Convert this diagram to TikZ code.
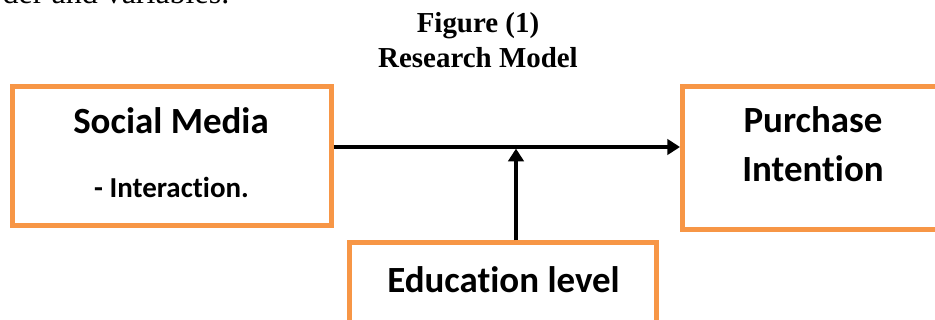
\documentclass[tikz,border=0pt]{standalone}
\usepackage{fontspec}
\setmainfont{Liberation Serif}
\newfontfamily\calfont[Ligatures=NoCommon]{Carlito}
\usetikzlibrary{arrows.meta}
\definecolor{boxorange}{HTML}{F79646}

\begin{document}
\begin{tikzpicture}[x=0.75pt, y=-0.75pt,
	box/.style={draw=boxorange, line width=3.75pt, rectangle},
	head/.style={font=\calfont\bfseries\fontsize{27.7pt}{33pt}\selectfont},
	sub/.style={font=\calfont\bfseries\fontsize{21.7pt}{26pt}\selectfont},
	title/.style={font=\bfseries\fontsize{21.7pt}{26pt}\selectfont},
	link/.style={-{Triangle[length=9.5pt,width=11.5pt]}, line width=2.4pt}]
	\useasboundingbox (0,0) rectangle (935,320);
	\path[clip] (0,0) rectangle (935,320);

	% end of the line above the figure
	\node[anchor=base west, font=\fontsize{24pt}{28pt}\selectfont] (prev) at (-2,4) {der and variables.};

	% caption
	\node[title, anchor=base] (fig) at (478,33) {Figure (1)};
	\node[title, anchor=base] (model) at (478,68) {Research Model};

	% boxes
	\node[box, minimum width=238.9pt, minimum height=103.9pt] (media) at (171.75,155.75) {};
	\node[box, minimum width=196.1pt, minimum height=107.6pt] (intent) at (813.25,158.25) {};
	\node[box, minimum width=230.6pt, minimum height=72.75pt] (edu) at (503.25,291.5) {};

	\node[head, anchor=base] (mediaT) at (171,134) {Social Media};
	\node[sub, anchor=base] (mediaI) at (171.5,198) {- Interaction.};
	\node[head, anchor=base] (intentA) at (813,133) {Purchase};
	\node[head, anchor=base] (intentB) at (813,182) {Intention};
	\node[head, anchor=base] (eduT) at (503.5,292) {Education level};

	% paths
	\coordinate (mod) at (516,147);
	\draw[link] (media.east |- mod) -- (intent.west |- mod);
	\draw[link, shorten >=1.2pt] (mod |- edu.north) -- (mod);
\end{tikzpicture}
\end{document}
